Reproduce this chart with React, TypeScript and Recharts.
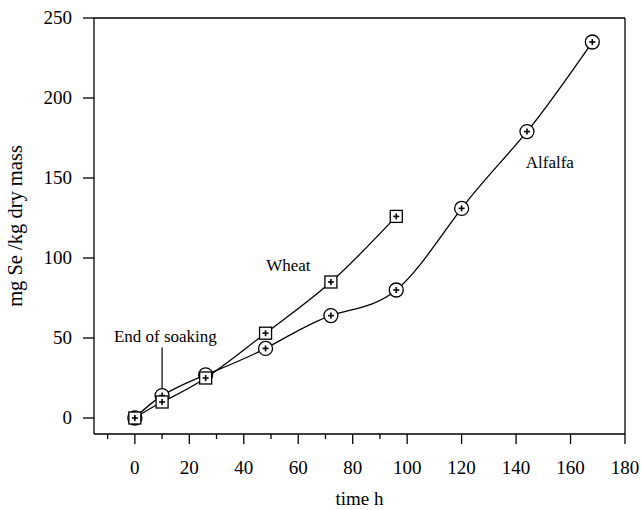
import { LineChart, Line, XAxis, YAxis, ReferenceLine, ReferenceDot } from "recharts"

const alfalfaTimes = [0, 10, 26, 48, 72, 96, 120, 144, 168]
const alfalfaSe = [0, 14, 27, 43.5, 64, 80, 131, 179, 235]
const wheatTimes = [0, 10, 26, 48, 72, 96]
const wheatSe = [0, 10, 25, 53, 85, 126]

const xTicks = [-10, 0, 10, 20, 30, 40, 50, 60, 70, 80, 90, 100, 110, 120, 130, 140, 150, 160, 170, 180]
const yTicks = [0, 50, 100, 150, 200, 250]

const alfalfa = alfalfaTimes.map((t, i) => ({ t, v: alfalfaSe[i] }))
const wheat = wheatTimes.map((t, i) => ({ t, v: wheatSe[i] }))

const FONT = "'Liberation Serif', 'Times New Roman', serif"

function XTick({ x, y, payload }: any) {
  const major = payload.value % 20 === 0 && payload.value >= 0
  return (
    <g>
      <line x1={x} x2={x} y1={y} y2={y + (major ? 10 : 5)} stroke="#000" strokeWidth={1.3} />
      {major && (
        <text x={x} y={y + 40} textAnchor="middle" fontSize={19} fontFamily={FONT} fill="#000">
          {payload.value}
        </text>
      )}
    </g>
  )
}

function YTick({ x, y, payload }: any) {
  return (
    <g>
      <line x1={x - 11} x2={x} y1={y} y2={y} stroke="#000" strokeWidth={1.3} />
      <text x={x - 22} y={y + 6} textAnchor="end" fontSize={19} fontFamily={FONT} fill="#000">
        {payload.value}
      </text>
    </g>
  )
}

function CircleDot({ cx, cy }: any) {
  if (cx == null || cy == null) return null
  return (
    <g>
      <circle cx={cx} cy={cy} r={7} fill="#fff" stroke="#000" strokeWidth={1.3} />
      <line x1={cx - 3} x2={cx + 3} y1={cy} y2={cy} stroke="#000" strokeWidth={1.6} />
      <line x1={cx} x2={cx} y1={cy - 3} y2={cy + 3} stroke="#000" strokeWidth={1.6} />
    </g>
  )
}

function SquareDot({ cx, cy }: any) {
  if (cx == null || cy == null) return null
  return (
    <g>
      <rect x={cx - 6} y={cy - 6} width={12} height={12} fill="#fff" stroke="#000" strokeWidth={1.3} />
      <line x1={cx - 3} x2={cx + 3} y1={cy} y2={cy} stroke="#000" strokeWidth={1.6} />
      <line x1={cx} x2={cx} y1={cy - 3} y2={cy + 3} stroke="#000" strokeWidth={1.6} />
    </g>
  )
}

const labelStyle = { fontSize: 17, fontFamily: FONT, fill: "#000" }

export default function App() {
  return (
    <div style={{ position: "absolute", left: 0, top: 0, background: "#fff" }}>
      <LineChart width={641} height={510} margin={{ top: 18, right: 16, bottom: 16, left: 34 }}>
        <XAxis
          type="number"
          dataKey="t"
          domain={[-15, 180]}
          ticks={xTicks}
          allowDataOverflow
          height={60}
          tickSize={0}
          tickMargin={0}
          tickLine={false}
          tick={<XTick />}
          axisLine={{ stroke: "#000", strokeWidth: 1.3 }}
          label={{ value: "time h", position: "insideBottom", offset: -11, style: { ...labelStyle, fontSize: 19 } }}
        />
        <YAxis
          type="number"
          dataKey="v"
          domain={[-10, 250]}
          ticks={yTicks}
          allowDataOverflow
          width={60}
          tickSize={0}
          tickMargin={0}
          tickLine={false}
          tick={<YTick />}
          axisLine={{ stroke: "#000", strokeWidth: 1.3 }}
          label={{
            value: "mg Se /kg dry mass",
            angle: -90,
            position: "insideLeft",
            offset: -19,
            style: { ...labelStyle, fontSize: 20.5, textAnchor: "middle" },
          }}
        />
        <ReferenceLine y={250} stroke="#000" strokeWidth={1.3} />
        <ReferenceLine x={180} stroke="#000" strokeWidth={1.3} />
        <ReferenceLine
          segment={[
            { x: 10, y: 18 },
            { x: 10, y: 44 },
          ]}
          stroke="#000"
          strokeWidth={1.2}
        />
        <Line
          data={alfalfa}
          dataKey="v"
          type="natural"
          stroke="#000"
          strokeWidth={1.3}
          dot={<CircleDot />}
          activeDot={false}
          isAnimationActive={false}
        />
        <Line
          data={wheat}
          dataKey="v"
          type="natural"
          stroke="#000"
          strokeWidth={1.3}
          dot={<SquareDot />}
          activeDot={false}
          isAnimationActive={false}
        />
        <ReferenceDot x={56.4} y={95.6} r={0} stroke="none" label={{ value: "Wheat", position: "center", style: labelStyle }} />
        <ReferenceDot x={152.4} y={160} r={0} stroke="none" label={{ value: "Alfalfa", position: "center", style: labelStyle }} />
        <ReferenceDot x={11.2} y={51.2} r={0} stroke="none" label={{ value: "End of soaking", position: "center", style: labelStyle }} />
      </LineChart>
    </div>
  )
}
